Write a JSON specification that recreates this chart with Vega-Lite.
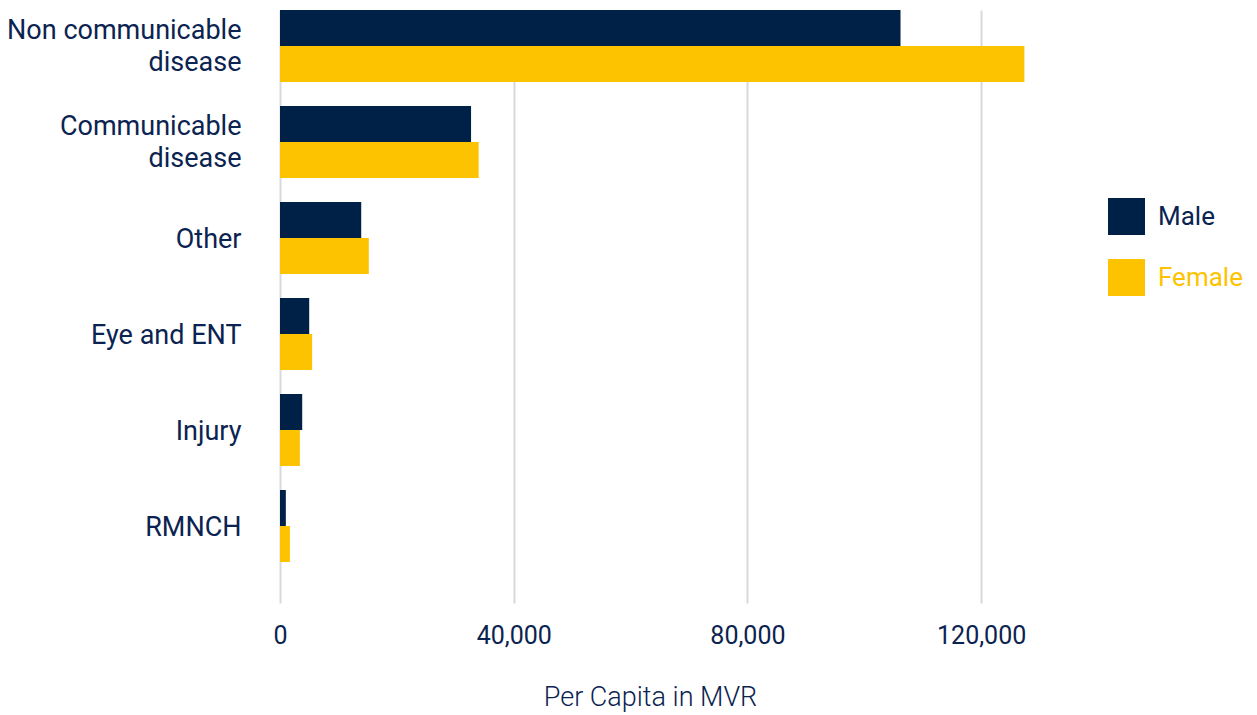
{
  "$schema": "https://vega.github.io/schema/vega-lite/v6.json",
  "autosize": {"type": "none"},
  "padding": {"left": 280, "top": 10, "right": 159, "bottom": 112},
  "width": 818,
  "height": 593,
  "background": "white",
  "config": {"view": {"stroke": null}, "font": "Roboto"},
  "data": {"values": [
    {"cause": "Non communicable disease", "gender": "Male", "value": 106200},
    {"cause": "Non communicable disease", "gender": "Female", "value": 127400},
    {"cause": "Communicable disease", "gender": "Male", "value": 32700},
    {"cause": "Communicable disease", "gender": "Female", "value": 34000},
    {"cause": "Other", "gender": "Male", "value": 13900},
    {"cause": "Other", "gender": "Female", "value": 15200},
    {"cause": "Eye and ENT", "gender": "Male", "value": 5000},
    {"cause": "Eye and ENT", "gender": "Female", "value": 5500},
    {"cause": "Injury", "gender": "Male", "value": 3800},
    {"cause": "Injury", "gender": "Female", "value": 3400},
    {"cause": "RMNCH", "gender": "Male", "value": 1000},
    {"cause": "RMNCH", "gender": "Female", "value": 1700}
  ]},
  "mark": {"type": "bar"},
  "encoding": {
    "y": {
      "field": "cause", "type": "nominal",
      "sort": ["Non communicable disease", "Communicable disease", "Other", "Eye and ENT", "Injury", "RMNCH"],
      "scale": {"paddingInner": 0.25, "paddingOuter": 0.2135, "align": 0},
      "axis": {
        "title": null, "domain": false, "ticks": false,
        "labelFontSize": 27, "labelColor": "#0B2350", "labelPadding": 39,
        "labelLineHeight": 32, "labelLimit": 300,
        "labelExpr": "datum.label == 'Non communicable disease' ? ['Non communicable', 'disease'] : datum.label == 'Communicable disease' ? ['Communicable', 'disease'] : datum.label",
        "labelOffset": {"expr": "indexof(datum.value, 'disease') >= 0 ? -15 : 2"}
      }
    },
    "yOffset": {
      "field": "gender", "type": "nominal",
      "sort": ["Male", "Female"],
      "scale": {"paddingInner": 0, "paddingOuter": 0}
    },
    "x": {
      "field": "value", "type": "quantitative",
      "scale": {"domain": [0, 140000], "nice": false},
      "axis": {
        "title": "Per Capita in MVR", "titleFontSize": 27, "titleFontWeight": 300,
        "titleColor": "#0B2350", "titlePadding": 36, "titleX": 370,
        "values": [0, 40000, 80000, 120000], "format": ",.0f",
        "domain": false, "ticks": false,
        "grid": true, "gridColor": "#D9D9D9", "gridWidth": 2,
        "labelFontSize": 25, "labelColor": "#0B2350", "labelPadding": 20,
        "labelFlush": false
      }
    },
    "color": {
      "field": "gender", "type": "nominal",
      "sort": ["Male", "Female"],
      "scale": {"domain": ["Male", "Female"], "range": ["#002147", "#FDC300"]},
      "legend": {
        "title": null, "orient": "none", "legendX": 828, "legendY": 188,
        "symbolType": "square", "symbolSize": 1369, "symbolStrokeWidth": 0,
        "symbolOpacity": 1,
        "labelFontSize": 26, "labelOffset": 13, "rowPadding": 24,
        "encode": {"labels": {"update": {"fill": {"signal": "datum.label == 'Male' ? '#0B2350' : '#FDC300'"}}}}
      }
    }
  }
}
